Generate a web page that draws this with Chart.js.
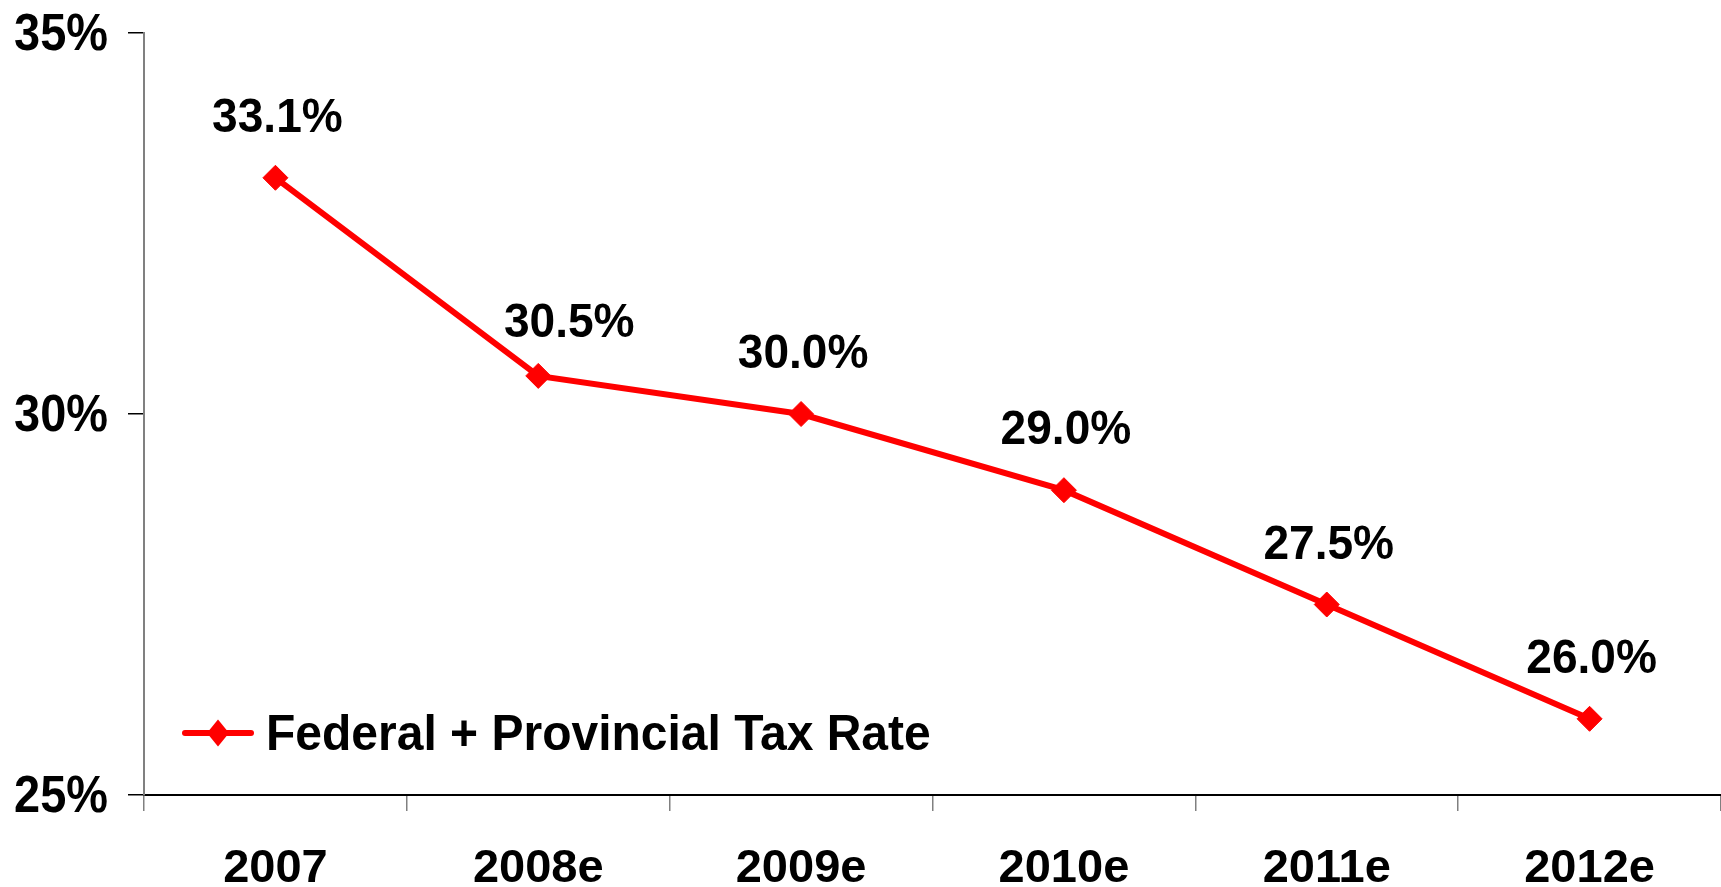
<!DOCTYPE html>
<html>
<head>
<meta charset="utf-8">
<script src="https://cdn.jsdelivr.net/npm/chart.js@4.4.1/dist/chart.umd.min.js"></script>
<style>
  html, body { margin: 0; padding: 0; background: #fff; overflow: hidden; }
  #wrap { width: 1721px; height: 887px; position: relative; }
  #wrap canvas { display: block; }
</style>
</head>
<body>
<div id="wrap"><canvas id="c"></canvas></div>
<script>
// Combined federal + provincial corporate tax rate
const categories = ['2007', '2008e', '2009e', '2010e', '2011e', '2012e'];
const taxRate = [33.1, 30.5, 30.0, 29.0, 27.5, 26.0];
const seriesName = 'Federal + Provincial Tax Rate';
const yTicks = [25, 30, 35];

const FONT = '"Liberation Sans", Arial, Helvetica, sans-serif';
const RED = '#FF0000';

// Hand-placed value label (index -> [dx, dy] in px); the rest sit centred above their point
const LABEL_NUDGE = { 1: [29, 7] };

// Value labels drawn above each point
const valueLabels = {
  id: 'valueLabels',
  afterDatasetsDraw(chart) {
    const ctx = chart.ctx;
    const meta = chart.getDatasetMeta(0);
    ctx.save();
    ctx.fillStyle = '#000';
    ctx.font = 'bold 49px ' + FONT;
    ctx.textAlign = 'center';
    ctx.textBaseline = 'alphabetic';
    meta.data.forEach((pt, i) => {
      const [dx, dy] = LABEL_NUDGE[i] || [0, 0];
      ctx.save();
      ctx.translate(pt.x + 2 + dx, pt.y - 46 + dy);
      ctx.scale(0.94, 1);
      ctx.fillText(taxRate[i].toFixed(1) + '%', 0, 0);
      ctx.restore();
    });
    ctx.restore();
  }
};

// Slightly condensed percentage labels beside the value axis
const yAxisLabels = {
  id: 'yAxisLabels',
  afterDraw(chart) {
    const ctx = chart.ctx;
    const scale = chart.scales.y;
    ctx.save();
    ctx.fillStyle = '#000';
    ctx.font = 'bold 51px ' + FONT;
    ctx.textAlign = 'right';
    ctx.textBaseline = 'alphabetic';
    scale.ticks.forEach(t => {
      const y = scale.getPixelForValue(t.value);
      ctx.save();
      ctx.translate(scale.right - 36, y + 17);
      ctx.scale(0.92, 1);
      ctx.fillText(t.value + '%', 0, 0);
      ctx.restore();
    });
    ctx.restore();
  }
};

// Series key in the lower-left corner of the plot
const seriesKey = {
  id: 'seriesKey',
  afterDraw(chart) {
    const ctx = chart.ctx;
    const area = chart.chartArea;
    const ds = chart.data.datasets[0];
    const x0 = area.left + 41;
    const x1 = area.left + 107;
    const cy = area.bottom - 62;
    const cx = (x0 + x1) / 2;
    ctx.save();
    ctx.strokeStyle = ds.borderColor;
    ctx.lineWidth = 6;
    ctx.lineCap = 'round';
    ctx.beginPath();
    ctx.moveTo(x0, cy);
    ctx.lineTo(x1, cy);
    ctx.stroke();
    ctx.fillStyle = ds.borderColor;
    ctx.beginPath();
    ctx.moveTo(cx - 11, cy);
    ctx.lineTo(cx, cy - 13.5);
    ctx.lineTo(cx + 11, cy);
    ctx.lineTo(cx, cy + 13.5);
    ctx.closePath();
    ctx.fill();
    ctx.fillStyle = '#000';
    ctx.font = 'bold 48px ' + FONT;
    ctx.textAlign = 'left';
    ctx.textBaseline = 'alphabetic';
    ctx.save();
    ctx.translate(x1 + 15, cy + 17);
    ctx.scale(1, 1.04);
    ctx.fillText(ds.label, 0, 0);
    ctx.restore();
    ctx.restore();
  }
};

new Chart(document.getElementById('c'), {
  type: 'line',
  data: {
    labels: categories,
    datasets: [{
      label: seriesName,
      data: taxRate,
      borderColor: RED,
      backgroundColor: RED,
      borderWidth: 6,
      tension: 0,
      pointStyle: 'rectRot',
      pointRadius: 12.5,
      pointBorderWidth: 1,
      pointBackgroundColor: RED,
      pointBorderColor: RED,
      clip: false
    }]
  },
  options: {
    responsive: true,
    maintainAspectRatio: false,
    animation: false,
    layout: { autoPadding: false, padding: { top: 33, right: 0, left: 0, bottom: 0 } },
    plugins: {
      legend: { display: false },
      tooltip: { enabled: false }
    },
    scales: {
      x: {
        type: 'category',
        offset: true,
        grid: {
          offset: true,
          drawOnChartArea: false,
          drawTicks: true,
          tickLength: 16,
          color: '#808080',
          lineWidth: 1.5
        },
        border: { display: true, color: '#000', width: 2 },
        ticks: {
          color: '#000',
          font: { size: 47, weight: 'bold', family: FONT },
          padding: 30,
          maxRotation: 0,
          autoSkip: false
        },
        afterFit(scale) {
          scale.height = 92;
          scale.paddingLeft = 0;
          scale.paddingRight = 0;
        }
      },
      y: {
        min: 25,
        max: 35,
        afterBuildTicks(scale) { scale.ticks = yTicks.map(v => ({ value: v })); },
        ticks: { display: false },
        grid: {
          drawOnChartArea: false,
          drawTicks: true,
          tickLength: 16,
          color: '#000',
          lineWidth: 1.5
        },
        border: { display: true, color: '#808080', width: 2 },
        afterFit(scale) {
          scale.width = 144;
          scale.paddingTop = 0;
          scale.paddingBottom = 0;
        }
      }
    }
  },
  plugins: [valueLabels, yAxisLabels, seriesKey]
});
</script>
</body>
</html>
